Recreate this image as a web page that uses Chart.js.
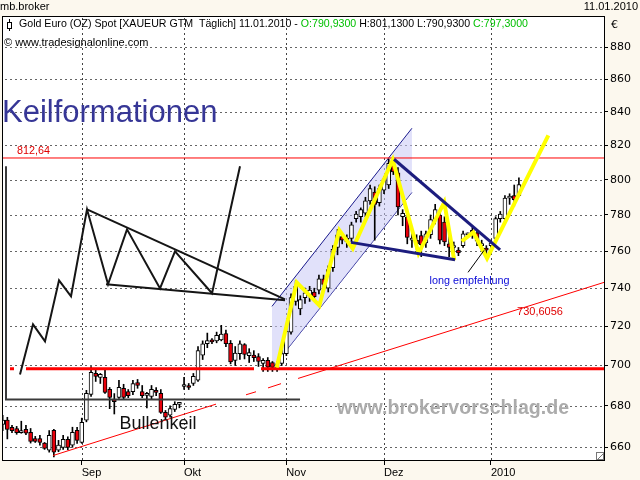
<!DOCTYPE html>
<html>
<head>
<meta charset="utf-8">
<script src="https://cdn.jsdelivr.net/npm/chart.js@4.4.1/dist/chart.umd.min.js"></script>
<style>
html,body{margin:0;padding:0;background:#fcf8ee;}
</style>
</head>
<body>
<canvas id="c" width="640" height="480"></canvas>
<script>
// Gold Euro spot, daily candles 07.08.2009 - 11.01.2010
var dates = [
 '07.08.2009','10.08.2009','11.08.2009','12.08.2009','13.08.2009','14.08.2009','17.08.2009','18.08.2009','19.08.2009','20.08.2009',
 '21.08.2009','24.08.2009','25.08.2009','26.08.2009','27.08.2009','28.08.2009','31.08.2009',
 '01.09.2009','02.09.2009','03.09.2009','04.09.2009','07.09.2009','08.09.2009','09.09.2009','10.09.2009','11.09.2009','14.09.2009',
 '15.09.2009','16.09.2009','17.09.2009','18.09.2009','21.09.2009','22.09.2009','23.09.2009','24.09.2009','25.09.2009','28.09.2009',
 '29.09.2009','30.09.2009',
 '01.10.2009','02.10.2009','05.10.2009','06.10.2009','07.10.2009','08.10.2009','09.10.2009','12.10.2009','13.10.2009','14.10.2009',
 '15.10.2009','16.10.2009','19.10.2009','20.10.2009','21.10.2009','22.10.2009','23.10.2009','26.10.2009','27.10.2009','28.10.2009',
 '29.10.2009','30.10.2009',
 '02.11.2009','03.11.2009','04.11.2009','05.11.2009','06.11.2009','09.11.2009','10.11.2009','11.11.2009','12.11.2009','13.11.2009',
 '16.11.2009','17.11.2009','18.11.2009','19.11.2009','20.11.2009','23.11.2009','24.11.2009','25.11.2009','26.11.2009','27.11.2009',
 '30.11.2009',
 '01.12.2009','02.12.2009','03.12.2009','04.12.2009','07.12.2009','08.12.2009','09.12.2009','10.12.2009','11.12.2009','14.12.2009',
 '15.12.2009','16.12.2009','17.12.2009','18.12.2009','21.12.2009','22.12.2009','23.12.2009','24.12.2009','25.12.2009','28.12.2009',
 '29.12.2009','30.12.2009','31.12.2009',
 '01.01.2010','04.01.2010','05.01.2010','06.01.2010','07.01.2010','08.01.2010','11.01.2010'
];

var open = [
 671,673,669.6,669,667,668.6,667.1,664.2,664.2,662,
 658.6,668.1,658.6,660,663.8,661,668.1,662.3,673,685.6,
 696,694,694.1,688.1,683,684.1,688.6,687,687,691.5,
 687,685.1,684.6,687.6,686.1,676.8,675.4,678.2,680.7,689.5,
 690,691,692.6,705.2,711,713,712.5,713,716.3,711.3,
 702.6,706,710.6,705,705.2,704.5,701,702.6,701.5,698.5,
 701,706,717,733,729,735,736,738,739,745,
 740,751,762,768,765,767,778,779,781,788,
 793,787,794,797,808.5,804,779,779,766,766,
 768.5,764.5,769,777.5,780,776,764,762,760.5,763,
 769,771.5,770,763,761.5,763,767,778,778,789.5,
 791,790.93
];
var high = [
 675.4,674.4,670.5,670,672.5,670.5,669,665.2,665.7,662.3,
 668,668.6,663.3,665.7,665,669.6,669.6,674,687.6,699.5,
 698.5,696,697.5,689,686,692.6,690.6,688,692.6,693,
 690,686.6,690,689,688,677.7,680,682,681.7,694,
 691,696,709.6,712.5,716.5,713.7,717,720.5,718,712.7,
 709.6,712.5,711.1,708.5,707.5,706,703.5,704,702,702,
 708,719,737,744,736,740,741,740,747,747,
 752,763,772,770,769,776,782,784,790,797,
 796,797,802,812,812.6,807,783,781,770,769,
 771,771,780,786,782,779,768,765,762,771,
 770,773,772,766,763,766,779,782,791,792,
 797,801.13
];
var low = [
 668,664,667,666.2,666.7,666,662,662.3,661,659,
 657.7,655.4,657.9,659,658.8,660,661.9,661.9,672.2,684.6,
 692,691,686.1,678.6,676,683.6,683,684,685.5,688.6,
 684,679,683,685,676.3,673.5,674.4,677.2,679,688,
 688,690,692,703,709,711,711.5,712.5,709.5,700.8,
 700,703,703.3,701.5,702,699.5,697,697,697,697,
 700,705,716,731,726,732,733,734,737,740,
 738,749,758,764,762,765,776,776,779,786,
 766,785,792,795,803,780,774,764,762,761,
 757,762,767,775,764,763,757,757,757.5,762,
 768,767,763,760,758,762,766,776,777,786,
 785,790.93
];
var close = [
 673,668.5,668,667,668,666.7,662.8,662.8,662.3,659.5,
 665.7,657.7,661,663.8,660,667.1,663.3,672,686.1,696.5,
 694.5,695.5,686.6,684.1,682,689.1,684.1,685,691,690,
 685,686,688.1,686.6,676.8,674.4,678.6,680.7,681.2,690.5,
 689,694.6,707.6,711,712.7,711.9,715.3,716,711.1,701.8,
 706.3,711,705.6,706.5,704,702,702.6,699.2,699,700.5,
 706,717.5,735,741,734,737.5,739,735.5,745,742,
 750,761,769,766,767,774.5,780.5,783,788,795,
 786,795,800.5,809.5,804.5,784.5,781,767.5,767,764,
 763.5,769.5,777.5,783,766,765,762,763,759,769.5,
 769.3,768.3,765.5,764,760.5,764.5,778,780.5,789.5,790.3,
 788.6,797.3
];

var yTicks = [660,680,700,720,740,760,780,800,820,840,860,880];
var monthNames = ['Jan','Feb','Mär','Apr','Mai','Jun','Jul','Aug','Sep','Okt','Nov','Dez'];

// drawn annotations, [day index, price]
var level812 = 812.64;
var level698 = 698.3;
var redLevel = [[-0.15,level812],[129.3,level812]];
var redSupport = [[1.57,level698],[2.43,level698],[2.43,null],[5.01,level698],[54.04,level698],[54.04,null],[55.55,level698],[129.3,level698]];
var redTrend = [[10.82,656.1],[45.87,680.8],[45.87,null],[52.32,685.4],[54.47,686.9],[54.47,null],[57.05,688.8],[59.85,690.9],[59.85,null],[63.51,693.5],[129.3,743.1]];
var channelTop = [[57.9,730.4],[88.0,830.2]];
var channelBottom = [[57.9,698.5],[88.0,792.8]];
var wedgeTop = [[84.15,811.9],[106.95,760.7]];
var wedgeBottom = [[74.90,764.8],[97.27,755.3]];
var zigzag = [[58.92,699.0],[63.23,743.1],[68.09,730.9],[72.39,771.5],[75.27,761.4],[83.87,811.6],[89.42,758.8],[94.95,787.2],[97.10,755.0],[97.10,null],[98.71,765.4],[101.2,770.3],[104.15,756.1],[117.33,826.0]];
var pointer = [[100.07,748.5],[103.5,760.4]];
var sketchAxes = [[0.71,807.8],[0.71,683.1],[63.94,683.1]];
var sketchPath = [[3.72,695.5],[6.52,721.0],[9.10,712.2],[12.11,744.2],[14.69,735.7],[18.13,783.2],[22.65,742.1],[26.73,772.0],[33.83,739.9],[37.05,759.9],[45.01,737.3],[51.03,807.8]];
var sketchTop = [[18.13,783.2],[60.71,734.1]];
var sketchBottom = [[22.22,742.1],[60.71,733.6]];

// month ticks from the dates
var monthTicks = [];
var monthLabels = [];
for (let k = 1; k < dates.length; k++) {
    if (dates[k].substr(3,2) != dates[k-1].substr(3,2)) {
        monthTicks.push(k);
        var m = parseInt(dates[k].substr(3,2), 10);
        monthLabels.push(m == 1 ? dates[k].substr(6,4) : monthNames[m-1]);
    }
}

function pts(arr){
    return arr.map(function(p){ return {x: p[0], y: p[1]}; });
}
function fmt(v, d){
    return v.toFixed(d).replace('.', ',');
}

var last = dates.length - 1;

var notes = [
    {text: 'Keilformationen', at: [-0.15, 834.1], font: '31px "Liberation Sans"', color: '#363696', w: 216},
    {text: fmt(level812, 2), at: [3.08, 814.8], font: '11px "Liberation Sans"', color: '#e00000', w: 33},
    {text: '730,6056', at: [110.6, 725.7], font: '11px "Liberation Sans"', color: '#e00000', w: 46},
    {text: 'long empfehlung', at: [91.8, 742.5], font: '11px "Liberation Sans"', color: '#0a0ad8', w: 80},
    {text: 'Bullenkeil', at: [25.1, 668.6], font: '19px "Liberation Sans"', color: '#111', w: 77},
    {text: 'www.brokervorschlag.de', at: [71.9, 676.1], font: 'bold 20px "Liberation Sans"', color: '#ababab', w: 232}
];

var frame = {
    id: 'frame',
    beforeDraw: function(chart){
        var ctx = chart.ctx, a = chart.chartArea;
        ctx.save();
        ctx.fillStyle = '#fcf8ee';
        ctx.fillRect(0, 0, chart.width, chart.height);
        ctx.fillStyle = '#fff';
        ctx.fillRect(a.left, a.top, a.right - a.left, a.bottom - a.top);
        ctx.restore();
    },
    beforeDatasetsDraw: function(chart){
        // dotted grid at the scale ticks
        var ctx = chart.ctx, a = chart.chartArea, sx = chart.scales.x, sy = chart.scales.y;
        ctx.save();
        ctx.fillStyle = '#444';
        monthTicks.forEach(function(v){
            var px = Math.round(sx.getPixelForValue(v));
            for (var yy = a.top + 2; yy < a.bottom; yy += 5) ctx.fillRect(px, yy, 1, 2);
        });
        ctx.fillStyle = '#666';
        yTicks.forEach(function(v){
            var py = Math.round(sy.getPixelForValue(v));
            for (var xx = a.left + 3; xx < a.right; xx += 5) ctx.fillRect(xx, py, 2, 1);
        });
        ctx.restore();
    },
    afterDatasetsDraw: function(chart){
        var ctx = chart.ctx, sx = chart.scales.x, sy = chart.scales.y;
        ctx.save();
        ctx.textAlign = 'left';
        ctx.textBaseline = 'alphabetic';
        notes.forEach(function(n){
            ctx.font = n.font;
            ctx.fillStyle = n.color;
            ctx.fillText(n.text, sx.getPixelForValue(n.at[0]), sy.getPixelForValue(n.at[1]), n.w);
        });
        ctx.restore();
    },
    afterDraw: function(chart){
        var ctx = chart.ctx, a = chart.chartArea;
        ctx.save();
        ctx.strokeStyle = '#000';
        ctx.lineWidth = 1;
        ctx.strokeRect(a.left + 0.5, a.top + 0.5, a.right - a.left, a.bottom - a.top);

        ctx.font = '11px "Liberation Sans"';
        ctx.fillStyle = '#000';
        ctx.textBaseline = 'alphabetic';
        ctx.textAlign = 'left';
        ctx.fillText('mb.broker', 0, 10);
        ctx.textAlign = 'right';
        ctx.fillText(dates[last], 638, 10);
        ctx.textAlign = 'left';
        ctx.font = '11px "DejaVu Sans"';
        ctx.fillText('€', a.right + 7, a.top + 12);

        // little candle symbol
        ctx.beginPath();
        ctx.moveTo(9.5, a.top + 3); ctx.lineTo(9.5, a.top + 15); ctx.stroke();
        ctx.fillStyle = '#fff';
        ctx.fillRect(7.5, a.top + 6.5, 4, 6);
        ctx.strokeRect(7.5, a.top + 6.5, 4, 6);

        var parts = [
            ['Gold Euro (OZ) Spot [XAUEUR GTM  Täglich] ' + dates[last] + ' - ', '#000'],
            ['O:' + fmt(open[last], 4), '#00c000'],
            [' H:' + fmt(high[last], 4) + ' L:' + fmt(low[last], 4) + ' ', '#000'],
            ['C:' + fmt(close[last], 4), '#00c000']
        ];
        ctx.font = '11px "Liberation Sans"';
        var total = 0;
        parts.forEach(function(p){ total += ctx.measureText(p[0]).width; });
        ctx.save();
        ctx.translate(19, a.top + 11);
        ctx.scale(509 / total, 1);
        var px = 0;
        parts.forEach(function(p){
            ctx.fillStyle = p[1];
            ctx.fillText(p[0], px, 0);
            px += ctx.measureText(p[0]).width;
        });
        ctx.restore();
        ctx.fillStyle = '#000';
        ctx.fillText('© www.tradesignalonline.com', 4, a.top + 30);

        // resize corner
        ctx.strokeStyle = '#777';
        ctx.strokeRect(a.right - 7.5, a.bottom - 7.5, 7, 7);
        ctx.beginPath();
        ctx.moveTo(a.right - 6, a.bottom - 1); ctx.lineTo(a.right - 1, a.bottom - 6); ctx.stroke();
        ctx.restore();
    }
};

function lineSet(arr, color, width, order, extra){
    var d = {
        type: 'line',
        data: pts(arr),
        borderColor: color,
        borderWidth: width,
        pointRadius: 0,
        tension: 0,
        fill: false,
        spanGaps: false,
        order: order
    };
    for (var k in extra) d[k] = extra[k];
    return d;
}

var wicks = dates.map(function(d, k){ return {x: k, y: [low[k], high[k]]}; });
var bodies = dates.map(function(d, k){ return {x: k, y: [open[k], close[k]]}; });
var bodyColors = dates.map(function(d, k){ return close[k] >= open[k] ? '#ffffff' : '#e8000b'; });

var ctx = document.getElementById('c');
var chart = new Chart(ctx, {
    type: 'bar',
    data: {
        datasets: [
            lineSet(channelTop, '#1a1a8c', 1, 12, {fill: '+1', backgroundColor: 'rgba(200,200,245,0.55)'}),
            lineSet(channelBottom, '#1a1a8c', 1, 12),
            {
                type: 'bar', data: wicks, backgroundColor: '#000', borderWidth: 0,
                barThickness: 1, grouped: false, order: 10
            },
            {
                type: 'bar', data: bodies, backgroundColor: bodyColors, borderColor: '#000',
                borderWidth: 1, borderSkipped: false, barThickness: 4, minBarLength: 2,
                grouped: false, order: 9
            },
            lineSet(sketchAxes, '#3a3a3a', 2, 7),
            lineSet(sketchPath, '#151515', 2, 7),
            lineSet(sketchTop, '#151515', 2, 7),
            lineSet(sketchBottom, '#151515', 2, 7),
            lineSet(redLevel, '#ff0000', 1, 6),
            lineSet(redSupport, '#ff0000', 3, 6),
            lineSet(redTrend, '#ff0000', 1, 6),
            lineSet(zigzag, '#ffff00', 4, 4),
            lineSet(wedgeTop, '#1c1c7e', 3, 3),
            lineSet(wedgeBottom, '#1c1c7e', 3, 3),
            lineSet(pointer, '#000', 1, 3)
        ]
    },
    options: {
        responsive: false,
        devicePixelRatio: 1,
        animation: false,
        events: [],
        layout: {padding: {left: 2, top: 16, right: 0, bottom: 0}},
        plugins: {legend: {display: false}, tooltip: {enabled: false}},
        scales: {
            x: {
                type: 'linear',
                min: -0.15,
                max: 129.3,
                bounds: 'data',
                offset: false,
                grid: {drawOnChartArea: false, offset: false, drawTicks: true, tickLength: 5, tickColor: '#000'},
                border: {display: true, color: '#000'},
                ticks: {
                    autoSkip: false, maxRotation: 0, align: 'start', padding: 1,
                    color: '#000', font: {family: 'Liberation Sans', size: 11},
                    callback: function(v){ var k = monthTicks.indexOf(v); return k < 0 ? '' : monthLabels[k]; }
                },
                afterBuildTicks: function(s){ s.ticks = monthTicks.map(function(v){ return {value: v}; }); },
                afterFit: function(s){ s.height = 20; }
            },
            y: {
                type: 'logarithmic',
                position: 'right',
                min: 654,
                max: 900,
                bounds: 'data',
                grid: {drawOnChartArea: false, drawTicks: true, tickLength: 4, tickColor: '#000'},
                border: {display: true, color: '#000'},
                ticks: {
                    padding: 2, color: '#000', font: {family: 'DejaVu Sans', size: 11},
                    callback: function(v){ return String(v); }
                },
                afterBuildTicks: function(s){ s.ticks = yTicks.map(function(v){ return {value: v}; }); },
                afterFit: function(s){ s.width = 36; }
            }
        }
    },
    plugins: [frame]
});
</script>
</body>
</html>
